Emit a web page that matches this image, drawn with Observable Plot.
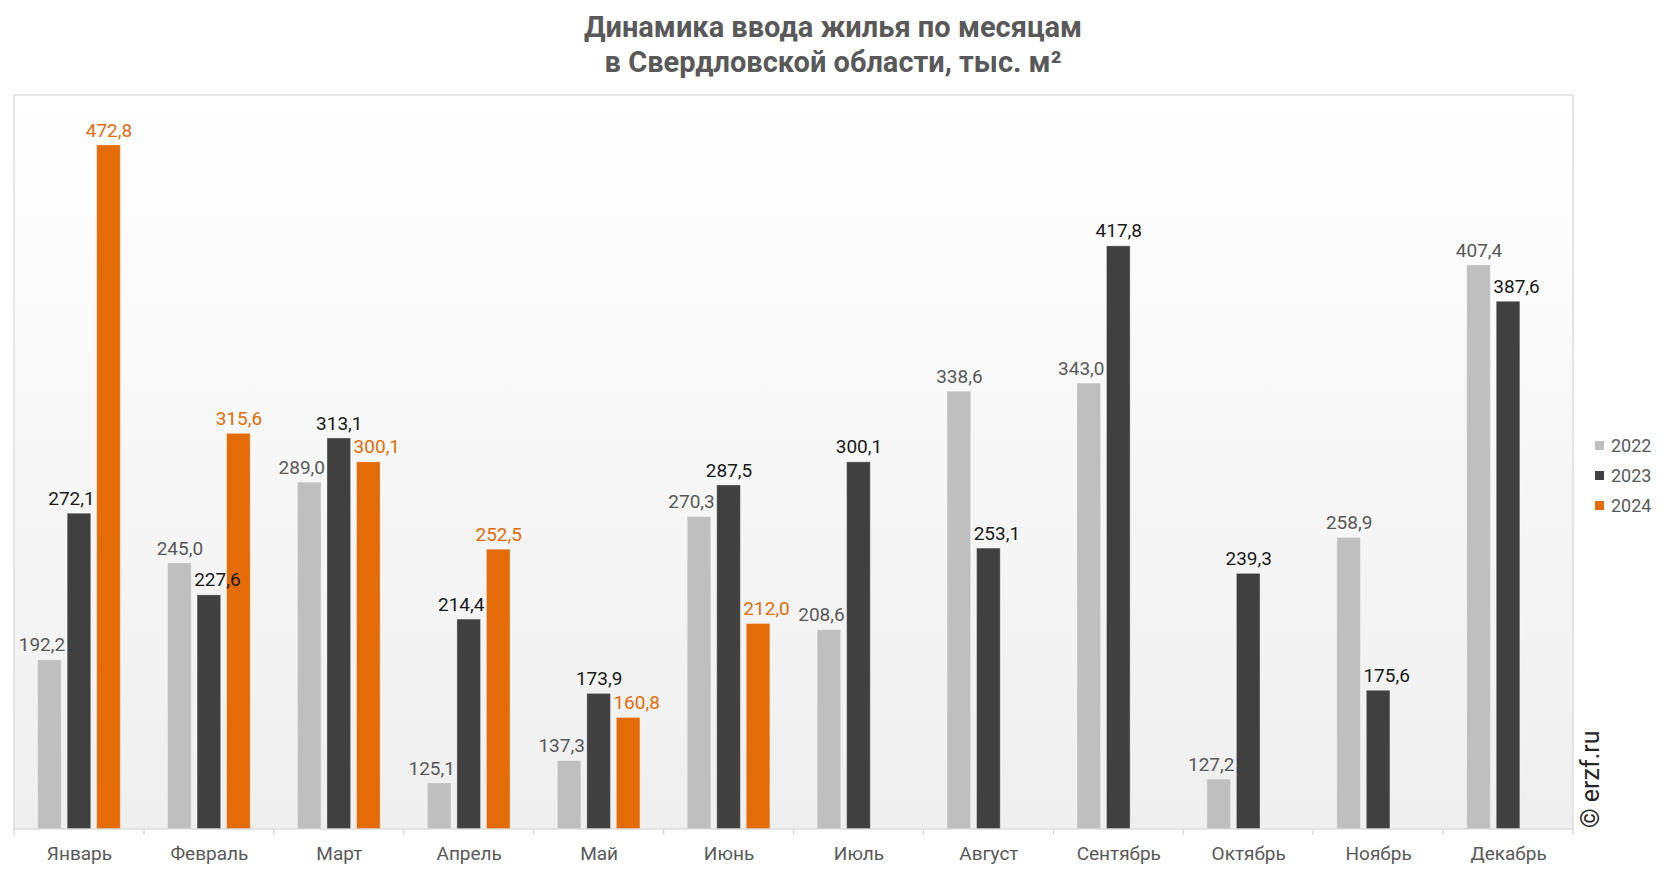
<!DOCTYPE html>
<html>
<head>
<meta charset="utf-8">
<script src="https://cdn.jsdelivr.net/npm/d3@7"></script>
<script src="https://cdn.jsdelivr.net/npm/@observablehq/plot@0.6"></script>
<style>
  body { margin: 0; background: #fff; font-family: Roboto, sans-serif; }
  #wrap { position: relative; width: 1666px; height: 872px; overflow: hidden; }
  #title { height: 80px; box-sizing: border-box; padding-top: 10px; text-align: center;
           font-family: Roboto, sans-serif; font-weight: bold; font-size: 29px; line-height: 35px; color: #595959; }
  #legend { position: absolute; left: 1595px; top: 430px; font-family: Roboto, sans-serif; font-size: 18px; color: #595959; }
  #legend .row { display: flex; align-items: center; height: 30px; }
  #legend .sw { width: 9px; height: 9px; margin-right: 7px; }
</style>
</head>
<body>
<div id="wrap">
  <div id="title">Динамика ввода жилья по месяцам<br>в Свердловской области, тыс. м²</div>
  <div id="chart"></div>
  <div id="legend"></div>
</div>
<script>
const months = ["Январь","Февраль","Март","Апрель","Май","Июнь","Июль","Август","Сентябрь","Октябрь","Ноябрь","Декабрь"];
const years = ["2022","2023","2024"];
const v2022 = [192.2, 245.0, 289.0, 125.1, 137.3, 270.3, 208.6, 338.6, 343.0, 127.2, 258.9, 407.4];
const v2023 = [272.1, 227.6, 313.1, 214.4, 173.9, 287.5, 300.1, 253.1, 417.8, 239.3, 175.6, 387.6];
const v2024 = [472.8, 315.6, 300.1, 252.5, 160.8, 212.0, null, null, null, null, null, null];
const barColors = ["#bfbfbf", "#404040", "#e36c09"];
const labelColors = ["#595959", "#1a1a1a", "#e36c09"];
const yDomain = [100, 500];

const series = [v2022, v2023, v2024];
const data = [];
months.forEach((m, i) => {
  series.forEach((arr, j) => {
    if (arr[i] != null) {
      // label nudge: move away from a taller neighbouring bar (previous first, then next)
      const prev = j > 0 ? series[j - 1][i] : null;
      const next = j < 2 ? series[j + 1][i] : null;
      let shift = 0;
      if (prev != null && prev > arr[i]) shift = 1;
      else if (next != null && next > arr[i]) shift = -1;
      data.push({month: m, year: years[j], yi: j, value: arr[i], shift});
    }
  });
});
const fmt = v => v.toFixed(1).replace(".", ",");

const marks = [];
years.forEach((yr, j) => {
  const sub = data.filter(d => d.year === yr);
  marks.push(Plot.barY(sub, {fx: "month", x: "year", y1: yDomain[0], y2: "value",
    fill: barColors[j], stroke: "#ffffff", strokeOpacity: 0.35, strokeWidth: 1}));
});
years.forEach((yr, j) => {
  [-1, 0, 1].forEach(s => {
    const sub = data.filter(d => d.year === yr && d.shift === s);
    marks.push(Plot.text(sub, {fx: "month", x: "year", y: "value", text: d => fmt(d.value),
      dy: -15, dx: s * 8, fill: labelColors[j], fontSize: 19}));
  });
});
marks.push(Plot.axisFx({anchor: "bottom", tickSize: 0, tickPadding: 17, fontSize: 19, fill: "#595959", label: null}));

const plot = Plot.plot({
  width: 1666, height: 792,
  marginTop: 15, marginBottom: 43, marginLeft: 14, marginRight: 93,
  style: {fontFamily: "Roboto, sans-serif", fontSize: "19px", background: "transparent", overflow: "visible"},
  fx: {domain: months, padding: 0, round: false, label: null},
  x: {domain: years, paddingInner: 0.2, paddingOuter: 0.8, round: false, axis: null},
  y: {domain: yDomain, axis: null},
  marks
});
document.getElementById("chart").appendChild(plot);

// plot-area background gradient + frame + boundary ticks, derived from the scales
const ns = "http://www.w3.org/2000/svg";
const fxs = plot.scale("fx"), ys = plot.scale("y");
const x0 = fxs.apply(months[0]);
const x1 = fxs.apply(months[months.length - 1]) + fxs.bandwidth;
const yTop = ys.apply(yDomain[1]), yBot = ys.apply(yDomain[0]);
const defs = document.createElementNS(ns, "defs");
defs.innerHTML = '<linearGradient id="bg" x1="0" y1="0" x2="0" y2="1"><stop offset="0" stop-color="#ffffff"/><stop offset="1" stop-color="#efefef"/></linearGradient>';
const bg = document.createElementNS(ns, "rect");
bg.setAttribute("x", x0); bg.setAttribute("y", yTop);
bg.setAttribute("width", x1 - x0); bg.setAttribute("height", yBot - yTop);
bg.setAttribute("fill", "url(#bg)");
const firstG = plot.querySelector("g");
plot.insertBefore(defs, firstG);
plot.insertBefore(bg, firstG);
const fr = document.createElementNS(ns, "rect");
fr.setAttribute("x", x0); fr.setAttribute("y", yTop);
fr.setAttribute("width", x1 - x0); fr.setAttribute("height", yBot - yTop);
fr.setAttribute("fill", "none"); fr.setAttribute("stroke", "#d9d9d9"); fr.setAttribute("stroke-width", 1.3);
plot.appendChild(fr);
const bounds = months.map(m => fxs.apply(m)).concat([x1]);
bounds.forEach(bx => {
  const l = document.createElementNS(ns, "line");
  l.setAttribute("x1", bx); l.setAttribute("x2", bx);
  l.setAttribute("y1", yBot); l.setAttribute("y2", yBot + 6);
  l.setAttribute("stroke", "#d9d9d9"); l.setAttribute("stroke-width", 1.3);
  plot.appendChild(l);
});
// watermark
const wm = document.createElementNS(ns, "text");
const wx = x1 + 26, wy = yBot - 1;
wm.setAttribute("x", wx); wm.setAttribute("y", wy);
wm.setAttribute("transform", `rotate(-90 ${wx} ${wy})`);
wm.setAttribute("text-anchor", "start");
wm.setAttribute("font-size", 25); wm.setAttribute("fill", "#262626");
wm.setAttribute("font-family", "Roboto, sans-serif");
wm.textContent = "© erzf.ru";
plot.appendChild(wm);

// legend
const lg = document.getElementById("legend");
years.forEach((yr, j) => {
  const r = document.createElement("div"); r.className = "row";
  r.innerHTML = `<div class="sw" style="background:${barColors[j]}"></div><span>${yr}</span>`;
  lg.appendChild(r);
});
</script>
</body>
</html>
